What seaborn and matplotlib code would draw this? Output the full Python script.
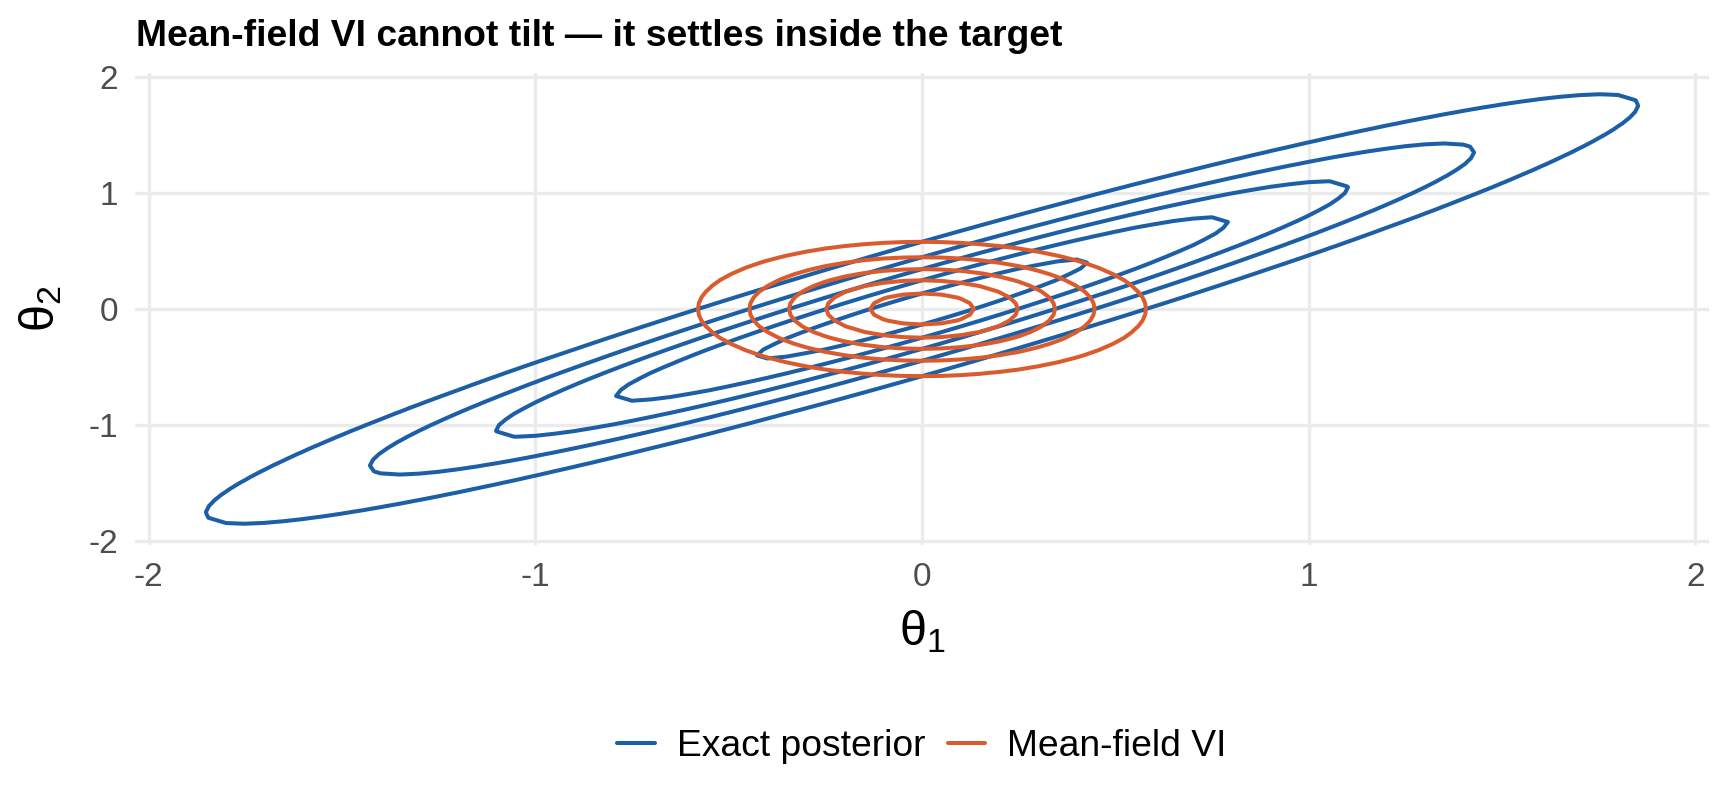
import numpy as np
import matplotlib
matplotlib.use("Agg")
import matplotlib.pyplot as plt
from matplotlib.lines import Line2D
import seaborn as sns

# ---- data / parameters ----
title = "Mean-field VI cannot tilt \u2014 it settles inside the target"
series_names = ["Exact posterior", "Mean-field VI"]
series_colors = ["#1c5fa6", "#da5c2e"]
post_mean = [0.0, 0.0]
post_sd = [1.0, 1.0]
post_rho = 0.95
vi_mean = [0.0, 0.0]
vi_sd = [0.312, 0.312]
level_fractions = [0.18, 0.36, 0.545, 0.73, 0.91]   # contour levels as fraction of peak density
x_ticks = [-2, -1, 0, 1, 2]
y_ticks = [-2, -1, 0, 1, 2]
x_tick_labels = ["-2", "-1", "0", "1", "2"]
y_tick_labels = ["-2", "-1", "0", "1", "2"]
axis_limits = [-2.035, 2.035]

sns.set_theme(style="whitegrid")
plt.rcParams["font.family"] = ["Liberation Sans", "DejaVu Sans"]
plt.rcParams["mathtext.fontset"] = "custom"
plt.rcParams["mathtext.rm"] = "Liberation Sans"
plt.rcParams["mathtext.it"] = "Liberation Sans:italic"

fig = plt.figure(figsize=(8.64, 4.03), dpi=200)
ax = fig.add_axes([135/1728, 1-545/806, (1709-135)/1728, (545-73)/806])

g = np.linspace(-2.5, 2.5, 101)
X, Y = np.meshgrid(g, g)

def bvn(X, Y, m, s, r):
    zx = (X - m[0]) / s[0]
    zy = (Y - m[1]) / s[1]
    q = (zx**2 - 2*r*zx*zy + zy**2) / (1 - r**2)
    return np.exp(-q/2) / (2*np.pi*s[0]*s[1]*np.sqrt(1 - r**2))

Zp = bvn(X, Y, post_mean, post_sd, post_rho)
Zq = bvn(X, Y, vi_mean, vi_sd, 0.0)
lw = 1.45
ax.contour(X, Y, Zp, levels=[f*Zp.max() for f in level_fractions],
           colors=series_colors[0], linewidths=lw, zorder=3)
ax.contour(X, Y, Zq, levels=[f*Zq.max() for f in level_fractions],
           colors=series_colors[1], linewidths=lw, zorder=4)

ax.set_xlim(axis_limits)
ax.set_ylim(axis_limits)
ax.set_xticks(x_ticks)
ax.set_xticklabels(x_tick_labels)
ax.set_yticks(y_ticks)
ax.set_yticklabels(y_tick_labels)
ax.set_facecolor("white")
for sp in ax.spines.values():
    sp.set_visible(False)
ax.grid(True, color="#ebebeb", linewidth=1.2)
ax.set_axisbelow(True)
ax.tick_params(axis="both", length=0, labelsize=12, colors="#4d4d4d")
ax.tick_params(axis="x", pad=6)
ax.tick_params(axis="y", pad=6)

fig.text(922/1728, 1-632/806, r"$\mathregular{\theta_1}$", fontsize=17.5,
         ha="center", va="center", color="black")
fig.text(41/1728, 1-309/806, r"$\mathregular{\theta_2}$", fontsize=17.5,
         ha="center", va="center", rotation=90, color="black")

fig.text(136/1728, 1-45.7/806, title, fontsize=13.4, fontweight="bold",
         ha="left", va="baseline", color="black")

handles = [Line2D([], [], color=c, linewidth=lw) for c in series_colors]
fig.legend(handles, series_names, loc="center", bbox_to_anchor=(922/1728, 1-747/806),
           ncol=2, frameon=False, fontsize=13.4, handlelength=1.0, handletextpad=0.6,
           columnspacing=0.6, labelcolor="black")

fig.savefig("out.png", dpi=200, facecolor="white")
